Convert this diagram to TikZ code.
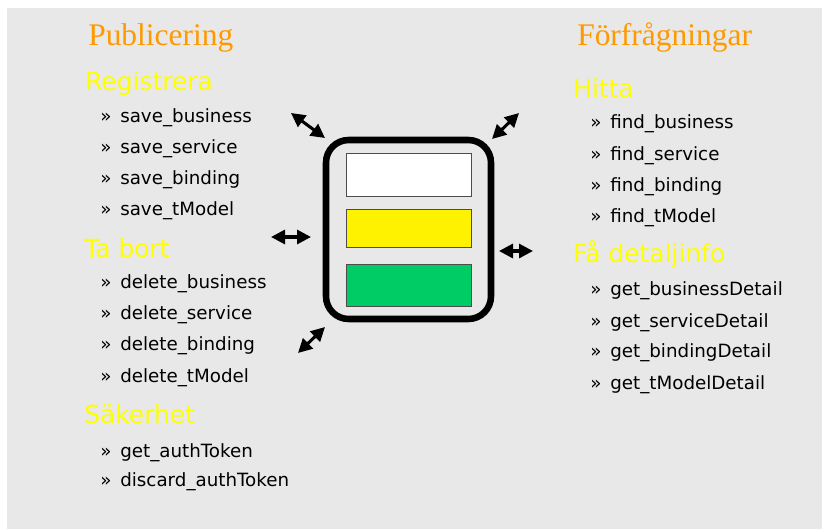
\documentclass[tikz,border=0pt]{standalone}
\usepackage{fontspec}
\setmainfont{Liberation Serif}
\setsansfont{DejaVu Sans}
\usetikzlibrary{arrows.meta}
\definecolor{bgGrey}{HTML}{E8E8E8}
\definecolor{pubOrange}{HTML}{FF9900}
\definecolor{subYellow}{HTML}{FFFF00}
\definecolor{tierGreen}{HTML}{00CC66}
\newcommand{\HeadFont}{\rmfamily\fontsize{23.6}{28}\selectfont}
\newcommand{\SubFont}{\sffamily\fontsize{18.7}{22}\selectfont}
\newcommand{\OpFont}{\sffamily\fontsize{13.7}{16}\selectfont}
\newcommand{\op}[1]{\makebox[15pt][l]{»}#1}

\begin{document}
\begin{tikzpicture}[x=0.75pt, y=-0.75pt,
  head/.style={anchor=base west, inner sep=0, text=pubOrange, font=\HeadFont},
  sub/.style={anchor=base west, inner sep=0, text=subYellow, font=\SubFont},
  opline/.style={anchor=base west, inner sep=0, font=\OpFont},
  tierbox/.style={draw, line width=4.9pt, rounded corners=17pt,
    minimum width=123.75pt, minimum height=134.25pt, inner sep=0},
  layer/.style={draw=black!70, line width=0.75pt, minimum width=93.75pt, inner sep=0},
  link/.style={{Triangle[length=10.5pt,width=10.5pt]}-{Triangle[length=10.5pt,width=10.5pt]}, line width=2.3pt}]

  \useasboundingbox (0,0) rectangle (822,529);
  \fill[bgGrey] (7,8) rectangle (822,529);

  %% left column
  \node[head] (pub) at (88,45) {Publicering};
  \node[sub] (reg) at (85,90) {Registrera};
  \node[opline] (sbus) at (100,122) {\op{save\_business}};
  \node[opline] (sser) at (100,153) {\op{save\_service}};
  \node[opline] (sbin) at (100,184) {\op{save\_binding}};
  \node[opline] (stmo) at (100,215) {\op{save\_tModel}};
  \node[sub] (tabort) at (84,257) {Ta bort};
  \node[opline] (dbus) at (100,288) {\op{delete\_business}};
  \node[opline] (dser) at (100,319) {\op{delete\_service}};
  \node[opline] (dbin) at (100,350) {\op{delete\_binding}};
  \node[opline] (dtmo) at (100,382) {\op{delete\_tModel}};
  \node[sub] (saker) at (84,423) {Säkerhet};
  \node[opline] (gtok) at (100,457) {\op{get\_authToken}};
  \node[opline] (dtok) at (100,486) {\op{discard\_authToken}};

  %% right column
  \node[head] (forf) at (577,45) {Förfrågningar};
  \node[sub] (hitta) at (573,97) {Hitta};
  \node[opline] (fbus) at (590,128) {\op{find\_business}};
  \node[opline] (fser) at (590,160) {\op{find\_service}};
  \node[opline] (fbin) at (590,191) {\op{find\_binding}};
  \node[opline] (ftmo) at (590,222) {\op{find\_tModel}};
  \node[sub] (detalj) at (573,262) {Få detaljinfo};
  \node[opline] (gbus) at (590,295) {\op{get\_businessDetail}};
  \node[opline] (gser) at (590,327) {\op{get\_serviceDetail}};
  \node[opline] (gbin) at (590,357) {\op{get\_bindingDetail}};
  \node[opline] (gtmo) at (590,389) {\op{get\_tModelDetail}};

  %% registry box with its three layers
  \node[tierbox] (reg box) at (408.5,229.5) {};
  \node[layer, fill=white, minimum height=32.25pt] (white layer) at (408.5,174.5) {};
  \node[layer, fill=yellow, minimum height=28.5pt] (yellow layer) at (408.5,228) {};
  \node[layer, fill=tierGreen, minimum height=31.5pt] (green layer) at (408.5,285) {};

  %% arrow ends
  \coordinate (tl a) at (291,113); \coordinate (tl b) at (325,138);
  \coordinate (tr a) at (492,139); \coordinate (tr b) at (519,113);
  \coordinate (l a) at (271,237);  \coordinate (l b) at (311,237);
  \coordinate (r a) at (499,251);  \coordinate (r b) at (533,251);
  \coordinate (bl a) at (298,353); \coordinate (bl b) at (325,327);

  \draw[link] (tl a) -- (tl b); %% top left
  \draw[link] (tr a) -- (tr b); %% top right
  \draw[link] (l a) -- (l b);   %% left
  \draw[link] (r a) -- (r b);   %% right
  \draw[link] (bl a) -- (bl b); %% bottom left

\end{tikzpicture}
\end{document}
